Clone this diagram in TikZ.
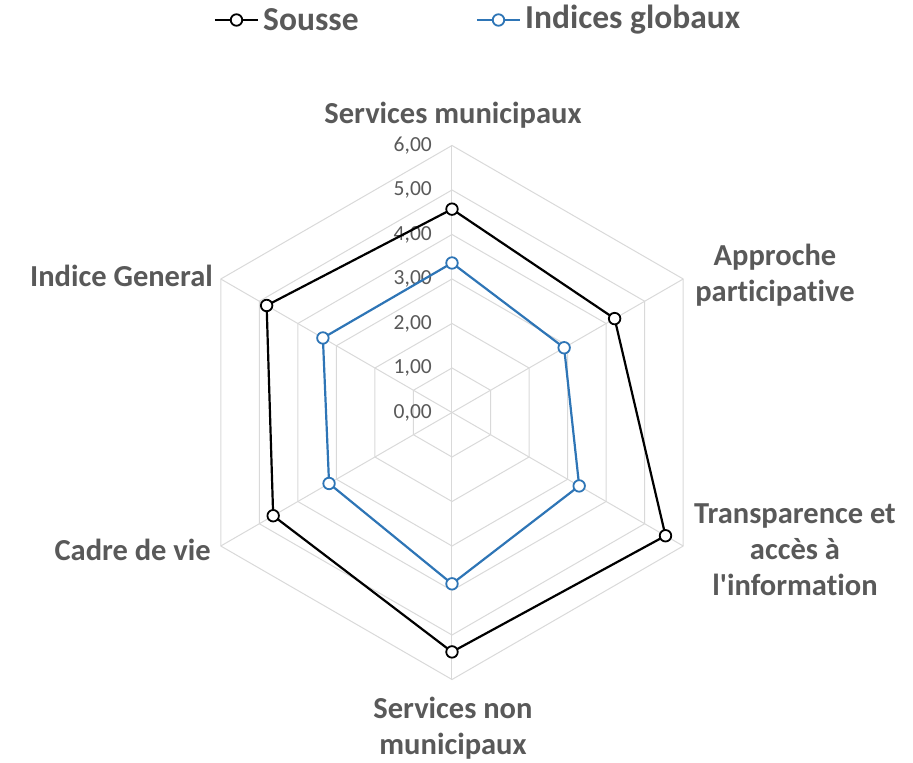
\documentclass[tikz,border=0pt]{standalone}
\usepackage{fontspec}
\setmainfont[RawFeature=-liga]{Carlito}
\definecolor{gridc}{RGB}{217,217,217}
\definecolor{txtc}{RGB}{89,89,89}
\definecolor{serb}{RGB}{46,117,182}
\tikzset{
  gridline/.style={draw=gridc, line width=1pt},
  axislab/.style={font=\fontsize{30.5}{36}\selectfont\bfseries, text=txtc, align=center, inner sep=0pt},
  ticklab/.style={font=\fontsize{21.5}{24}\selectfont, text=txtc, anchor=east, inner sep=0pt},
  serA/.style={draw=black, line width=2.2pt, line join=round},
  serB/.style={draw=serb, line width=2.2pt, line join=round},
  mkA/.style={circle, draw=black, fill=white, line width=1.8pt, minimum size=11.5pt, inner sep=0pt},
  mkB/.style={circle, draw=serb, fill=white, line width=1.8pt, minimum size=11.5pt, inner sep=0pt},
  leglab/.style={font=\fontsize{33.5}{36}\selectfont\bfseries, text=txtc, anchor=west, inner sep=0pt}
}
\begin{document}
\begin{tikzpicture}[x=1pt,y=1pt]
\useasboundingbox (-452,-350.5) rectangle (461,412.5);
\def\u{44.5}
% grid rings
\foreach \k in {1,...,6}{
  \draw[gridline] (90:\k*\u) -- (30:\k*\u) -- (-30:\k*\u) -- (-90:\k*\u) -- (210:\k*\u) -- (150:\k*\u) -- cycle;
}
% spokes
\coordinate (o) at (0,0);
\foreach \a in {90,30,-30,-90,210,150}{
  \draw[gridline] (o) -- (\a:6*\u);
}
% tick labels
\foreach \k/\t in {0/0,1/1,2/2,3/3,4/4,5/5,6/6}{
  \node[ticklab] (t\k) at (-20,\k*\u) {\t,00};
}
% axis labels
\node[axislab] (l1) at (1,297.5) {Services municipaux};
\node[axislab] (l2) at (323,137.5) {Approche\\participative};
\node[axislab] (l3) at (343,-137.5) {Transparence et\\accès à\\l\textquotesingle information};
\node[axislab] (l4) at (1,-315.5) {Services non\\municipaux};
\node[axislab, anchor=east] (l5) at (-241,-137.5) {Cadre de vie};
\node[axislab, anchor=east] (l6) at (-239,136.5) {Indice General};
% data: Sousse
\coordinate (a1) at (90:4.57*\u);
\coordinate (a2) at (30:4.22*\u);
\coordinate (a3) at (-30:5.54*\u);
\coordinate (a4) at (-90:5.38*\u);
\coordinate (a5) at (210:4.64*\u);
\coordinate (a6) at (150:4.81*\u);
% data: Indices globaux
\coordinate (b1) at (90:3.36*\u);
\coordinate (b2) at (30:2.91*\u);
\coordinate (b3) at (-30:3.30*\u);
\coordinate (b4) at (-90:3.85*\u);
\coordinate (b5) at (210:3.19*\u);
\coordinate (b6) at (150:3.35*\u);
\draw[serB] (b1) -- (b2) -- (b3) -- (b4) -- (b5) -- (b6) -- cycle;
\draw[serA] (a1) -- (a2) -- (a3) -- (a4) -- (a5) -- (a6) -- cycle;
\foreach \i in {1,...,6}{
  \node[mkB] (mb\i) at (b\i) {};
  \node[mkA] (ma\i) at (a\i) {};
}
% legend
\coordinate (la1) at (-237,392.5);
\coordinate (la2) at (-194,392.5);
\draw[serA] (la1) -- (la2);
\node[mkA] (lma) at (-215.5,392.5) {};
\node[leglab] (lta) at (-189,392.5) {Sousse};
\coordinate (lb1) at (25,392.5);
\coordinate (lb2) at (68,392.5);
\draw[serB] (lb1) -- (lb2);
\node[mkB] (lmb) at (46.5,392.5) {};
\node[leglab] (ltb) at (73,392.5) {Indices globaux};
\end{tikzpicture}
\end{document}
